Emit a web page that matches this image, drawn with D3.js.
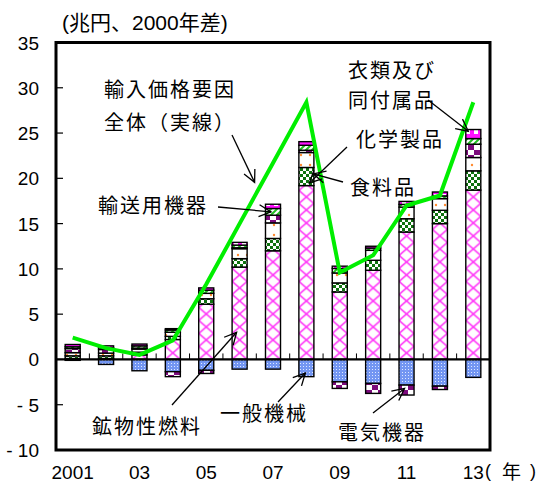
<!DOCTYPE html>
<html lang="ja">
<head>
<meta charset="utf-8">
<title>輸入価格要因の推移</title>
<script src="https://cdn.jsdelivr.net/npm/d3@7"></script>
<style>
	body{margin:0;background:#fff}
	text{font-family:"Liberation Sans",Arial,"Noto Sans CJK JP",sans-serif;fill:#000}
	.ann{font-family:"Noto Sans CJK JP",sans-serif;font-size:20px;letter-spacing:2px}
</style>
</head>
<body>
<script>
// values (trillion yen, difference from 2000)
var years = [2001,2002,2003,2004,2005,2006,2007,2008,2009,2010,2011,2012,2013];
var yearLabels = ["2001","","03","","05","","07","","09","","11","","13"];
var fuel      = [0.1,0.1,0.5,2.2,6.1,10.2,12.0,19.2,7.45,9.85,14.07,15.0,18.7];
var machinery = [-0.1,-0.55,-1.25,-1.35,-1.2,-1.07,-1.07,-1.9,-2.47,-2.65,-2.83,-2.95,-1.98];
var food      = [0.3,0.3,0.3,0.35,0.6,0.93,1.36,2.0,1.0,1.1,1.47,1.47,2.13];
var chem      = [0.35,0.3,0.35,0.45,0.6,1.1,1.72,1.65,1.1,1.1,1.28,1.29,1.47];
var elec      = [0.45,0.4,0.1,-0.55,-0.35,0.1,0.85,0.25,-0.73,-1.1,-1.1,-0.37,1.47];
var transport = [0.2,0.2,0.25,0.25,0.35,0.3,0.74,0.55,0.5,0.25,0.3,0.3,0.62];
var clothing  = [0.25,0.2,0.2,0.15,0.25,0.3,0.47,0.4,0.25,0.2,0.33,0.43,1.0];
var total     = [2.4,1.25,0.5,2.1,8.3,15.0,21.7,28.4,9.6,11.5,17.0,18.1,28.4];
var yTicks = [-10,-5,0,5,10,15,20,25,30,35];

var keys = ["fuel","machinery","food","chem","elec","transport","clothing"];
var series = {fuel:fuel, machinery:machinery, food:food, chem:chem, elec:elec, transport:transport, clothing:clothing};
var rows = years.map(function(y, i){
	var r = {year: y};
	keys.forEach(function(k){ r[k] = series[k][i]; });
	return r;
});

var W = 541, H = 483;
var svg = d3.select("body").append("svg").attr("width", W).attr("height", H);

var x = d3.scaleBand().domain(years).range([56, 490]).paddingInner(0.55).paddingOuter(0.275);
var y = d3.scaleLinear().domain([-10, 35]).range([450, 42.5]);
var bw = x.bandwidth();

// fill patterns
var defs = svg.append("defs");
function pat(id, w, h){
	return defs.append("pattern").attr("id", id).attr("patternUnits", "userSpaceOnUse")
		.attr("width", w).attr("height", h);
}
var p = pat("p-fuel", x.step(), 13).attr("x", x(years[0])).attr("y", y(0));
p.append("rect").attr("width", x.step()).attr("height", 13).attr("fill", "#fff");
p.append("path").attr("d", "M0,0L" + bw + ",13M" + bw + ",0L0,13")
	.attr("stroke", "#ff30f8").attr("stroke-width", 1.6);

p = pat("p-food", 6, 6);
p.append("rect").attr("width", 6).attr("height", 6).attr("fill", "#fff");
p.append("rect").attr("width", 3).attr("height", 3).attr("fill", "#0f720f");
p.append("rect").attr("x", 3).attr("y", 3).attr("width", 3).attr("height", 3).attr("fill", "#0f720f");

p = pat("p-chem", 9, 10);
p.append("rect").attr("width", 9).attr("height", 10).attr("fill", "#fff");
p.append("circle").attr("cx", 4).attr("cy", 5).attr("r", 1.2).attr("fill", "#ff8a30");

p = pat("p-elec", 12, 10);
p.append("rect").attr("width", 12).attr("height", 10).attr("fill", "#fff");
p.append("rect").attr("y", 5).attr("width", 6).attr("height", 5).attr("fill", "#7c0a7c");
p.append("rect").attr("x", 6).attr("width", 6).attr("height", 5).attr("fill", "#7c0a7c");

p = pat("p-transport", 6, 6);
p.append("rect").attr("width", 6).attr("height", 6).attr("fill", "#fff");
p.append("path").attr("d", "M-1,7L7,-1M-1,1L1,-1M5,7L7,5").attr("stroke", "#22c022").attr("stroke-width", 2);

p = pat("p-clothing", 8, 8);
p.append("rect").attr("width", 8).attr("height", 8).attr("fill", "#ff10ff");
p.append("rect").attr("x", 2).attr("y", 2).attr("width", 4).attr("height", 4).attr("fill", "#fff");

p = pat("p-machinery", 3, 3);
p.append("rect").attr("width", 3).attr("height", 3).attr("fill", "#7396f2");
p.append("rect").attr("width", 1).attr("height", 1).attr("fill", "#dfe8ff");

// stacked bars
var stacked = d3.stack().keys(keys).offset(d3.stackOffsetDiverging)(rows);
svg.append("g").selectAll("g").data(stacked).enter().append("g")
	.attr("fill", function(d){ return "url(#p-" + d.key + ")"; })
	.selectAll("rect").data(function(d){ return d; }).enter().append("rect")
	.attr("x", function(d){ return x(d.data.year); })
	.attr("y", function(d){ return y(Math.max(d[0], d[1])); })
	.attr("width", bw)
	.attr("height", function(d){ return Math.abs(y(d[0]) - y(d[1])); })
	.attr("stroke", "#000").attr("stroke-width", 1.4);

// zero line and small ticks between bars
svg.append("line").attr("x1", 56).attr("x2", 490).attr("y1", y(0)).attr("y2", y(0))
	.attr("stroke", "#000").attr("stroke-width", 2.2);
svg.append("g").selectAll("line").data(years.slice(1)).enter().append("line")
	.attr("x1", function(d){ return x(d) - x.step() * x.paddingInner() / 2; })
	.attr("x2", function(d){ return x(d) - x.step() * x.paddingInner() / 2; })
	.attr("y1", y(0)).attr("y2", y(0) - 6)
	.attr("stroke", "#000").attr("stroke-width", 1);

// y ticks inside frame
svg.append("g").selectAll("line").data(yTicks).enter().append("line")
	.attr("x1", 56).attr("x2", 63).attr("y1", function(d){ return y(d); }).attr("y2", function(d){ return y(d); })
	.attr("stroke", "#000").attr("stroke-width", 1.2);
svg.append("g").selectAll("text").data(yTicks).enter().append("text")
	.attr("x", 39).attr("y", function(d){ return y(d) + 7; })
	.attr("text-anchor", "end").attr("font-size", 19)
	.text(function(d){ return d < 0 ? "- " + (-d) : d; });

// frame
svg.append("rect").attr("x", 56).attr("y", y(35)).attr("width", 434).attr("height", y(-10) - y(35))
	.attr("fill", "none").attr("stroke", "#000").attr("stroke-width", 3);

// x labels
svg.append("g").selectAll("text").data(years).enter().append("text")
	.attr("x", function(d){ return x(d) + bw / 2; }).attr("y", 479)
	.attr("text-anchor", "middle").attr("font-size", 19)
	.text(function(d, i){ return yearLabels[i]; });
svg.append("text").attr("x", 485).attr("y", 477).attr("font-size", 18).text("(");
svg.append("text").attr("x", 502).attr("y", 479).attr("font-size", 19).style("font-family", "Noto Sans CJK JP").text("年");
svg.append("text").attr("x", 530).attr("y", 477).attr("font-size", 18).text(")");

// title
svg.append("text").attr("x", 62).attr("y", 30).attr("font-size", 21).text("(兆円、2000年差)");

// total line
var line = d3.line()
	.x(function(d, i){ return x(years[i]) + bw / 2; })
	.y(function(d){ return y(d); });
svg.append("path").datum(total).attr("d", line)
	.attr("fill", "none").attr("stroke", "#00ee00").attr("stroke-width", 4).attr("stroke-linejoin", "miter");

// arrows
defs.append("marker").attr("id", "arr").attr("markerUnits", "userSpaceOnUse")
	.attr("markerWidth", 16).attr("markerHeight", 16).attr("refX", 13).attr("refY", 7)
	.attr("orient", "auto")
	.append("path").attr("d", "M1,1L13,7L1,13").attr("fill", "none").attr("stroke", "#000").attr("stroke-width", 1.3);

function cx(yr){ return x(yr) + bw / 2; }
function positionOnLine(t){
	var i = Math.floor(t) - years[0], f = t - Math.floor(t);
	return total[i] + (total[i + 1] - total[i]) * f;
}
var arrows = [
	[232, 135, cx(2006) + 15, y(positionOnLine(2006.68))],
	[428, 100, cx(2013) - 5, y(25.2)],
	[347, 147, cx(2008) + 3, y(23.8) + 39],
	[343, 182, cx(2008) + 7, y(20.5)],
	[218, 207, cx(2007) - 2, y(16.3)],
	[172, 405, cx(2006) - 3, y(3)],
	[278, 402, cx(2008) - 1, y(-1.5)],
	[373, 413, cx(2011) - 2, y(-3.2)]
];
svg.append("g").selectAll("line").data(arrows).enter().append("line")
	.attr("x1", function(d){ return d[0]; }).attr("y1", function(d){ return d[1]; })
	.attr("x2", function(d){ return d[2]; }).attr("y2", function(d){ return d[3]; })
	.attr("stroke", "#000").attr("stroke-width", 1.3).attr("marker-end", "url(#arr)");

// annotations
var notes = [
	["輸入価格要因", 104, 97],
	["全体（実線）", 104, 130],
	["衣類及び", 348, 78],
	["同付属品", 348, 108],
	["化学製品", 356, 147],
	["食料品", 350, 195],
	["輸送用機器", 98, 213],
	["鉱物性燃料", 92, 434],
	["一般機械", 220, 421],
	["電気機器", 338, 440]
];
svg.append("g").selectAll("text").data(notes).enter().append("text")
	.attr("class", "ann")
	.attr("x", function(d){ return d[1]; }).attr("y", function(d){ return d[2]; })
	.text(function(d){ return d[0]; });
</script>
</body>
</html>
